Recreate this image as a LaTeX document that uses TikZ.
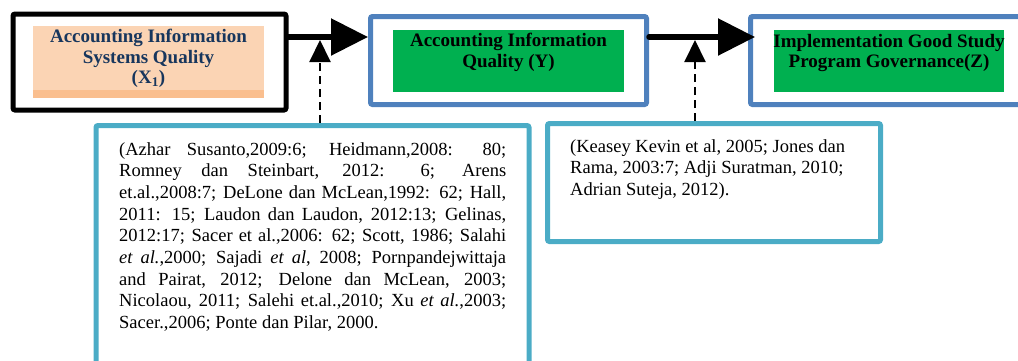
\documentclass[tikz,border=0pt]{standalone}
\usepackage{fontspec}
\setmainfont{Liberation Serif}
\usetikzlibrary{arrows.meta}
\definecolor{peach}{RGB}{251,212,180}
\definecolor{peachdark}{RGB}{250,191,143}
\definecolor{navy}{RGB}{23,54,93}
\definecolor{boxblue}{RGB}{79,129,189}
\definecolor{boxteal}{RGB}{75,172,198}
\definecolor{boxgreen}{RGB}{0,176,80}
\tikzset{outerbox/.style={draw, line width=5pt, rounded corners=2pt, inner sep=0pt},
  fillbox/.style={inner sep=0pt},
  title/.style={font=\fontsize{19}{20.5}\selectfont\bfseries, align=center, inner sep=0pt, anchor=north},
  reftext/.style={font=\fontsize{18.5}{21.7}\selectfont, inner sep=0pt, anchor=north west},
  bigarrow/.style={line width=5.5pt, line cap=round, -{Triangle[length=37pt,width=36pt]}},
  dasharrow/.style={line width=2pt, dash pattern=on 8pt off 5pt, -{Triangle[length=22pt,width=21pt]}}}

\begin{document}
\begin{tikzpicture}[x=1pt, y=-1pt]
    \clip (0,0) rectangle (1018,360);
    % main boxes
    \node[outerbox, minimum width=273pt, minimum height=96pt] (sysq) at (149.5,62) {};
    \node[fillbox, fill=peach, minimum width=231pt, minimum height=64pt] (sysqin) at (148.5,58) {};
    \fill[peachdark] (sysqin.south west) rectangle ++(231,8);
    \node[title, text=navy] (sysqtxt) at (148.5,29) {Accounting Information\\Systems Quality\\(X\textsubscript{1})};
    \node[outerbox, draw=boxblue, minimum width=276pt, minimum height=88pt] (infq) at (508.5,60.5) {};
    \node[fillbox, fill=boxgreen, minimum width=231pt, minimum height=62pt] (infqin) at (508.5,61) {};
    \node[title] (infqtxt) at (508.5,33) {Accounting Information\\Quality (Y)};
    \node[outerbox, draw=boxblue, minimum width=280pt, minimum height=88pt] (gov) at (890.5,60.5) {};
    \node[fillbox, fill=boxgreen, minimum width=230pt, minimum height=62pt] (govin) at (889,61) {};
    \node[title] (govtxt) at (889,34) {Implementation Good Study\\Program Governance(Z)};
    % reference boxes
    \node[outerbox, draw=boxteal, minimum width=433pt, minimum height=250pt] (refx) at (312.5,250.5) {};
    \node[reftext, text width=387pt, align=justify] (refxtxt) at (119,142) {(Azhar Susanto,2009:6; Heidmann,2008: 80;\linebreak
      Romney dan Steinbart, 2012: 6; Arens\linebreak
      et.al.,2008:7; DeLone dan McLean,1992: 62; Hall,\linebreak
      2011: 15; Laudon dan Laudon, 2012:13; Gelinas,\linebreak
      2012:17; Sacer et al.,2006: 62; Scott, 1986; Salahi\linebreak
      \textit{et al.},2000; Sajadi \textit{et al}, 2008; Pornpandejwittaja\linebreak
      and Pairat, 2012; Delone dan McLean, 2003;\linebreak
      Nicolaou, 2011; Salehi et.al.,2010; Xu \textit{et al.},2003;\linebreak
      Sacer.,2006; Ponte dan Pilar, 2000.};
    \node[outerbox, draw=boxteal, minimum width=333pt, minimum height=118pt] (refy) at (714,182.5) {};
    \node[reftext, align=left] (refytxt) at (570,139) {(Keasey Kevin et al, 2005; Jones dan\\Rama, 2003:7; Adji Suratman, 2010;\\Adrian Suteja, 2012).};
    % arrows
    \coordinate (lvl) at (0,37);
    \coordinate (mx) at (320,40);
    \coordinate (my) at (695,40);
    \draw[bigarrow] (sysq.east |- lvl) -- (infq.west |- lvl);
    \draw[bigarrow, shorten >=-7pt] (infq.east |- lvl) -- (gov.west |- lvl);
    \draw[dasharrow] (refx.north -| mx) -- (mx);
    \draw[dasharrow] (refy.north -| my) -- (my);
  \end{tikzpicture}
\end{document}
